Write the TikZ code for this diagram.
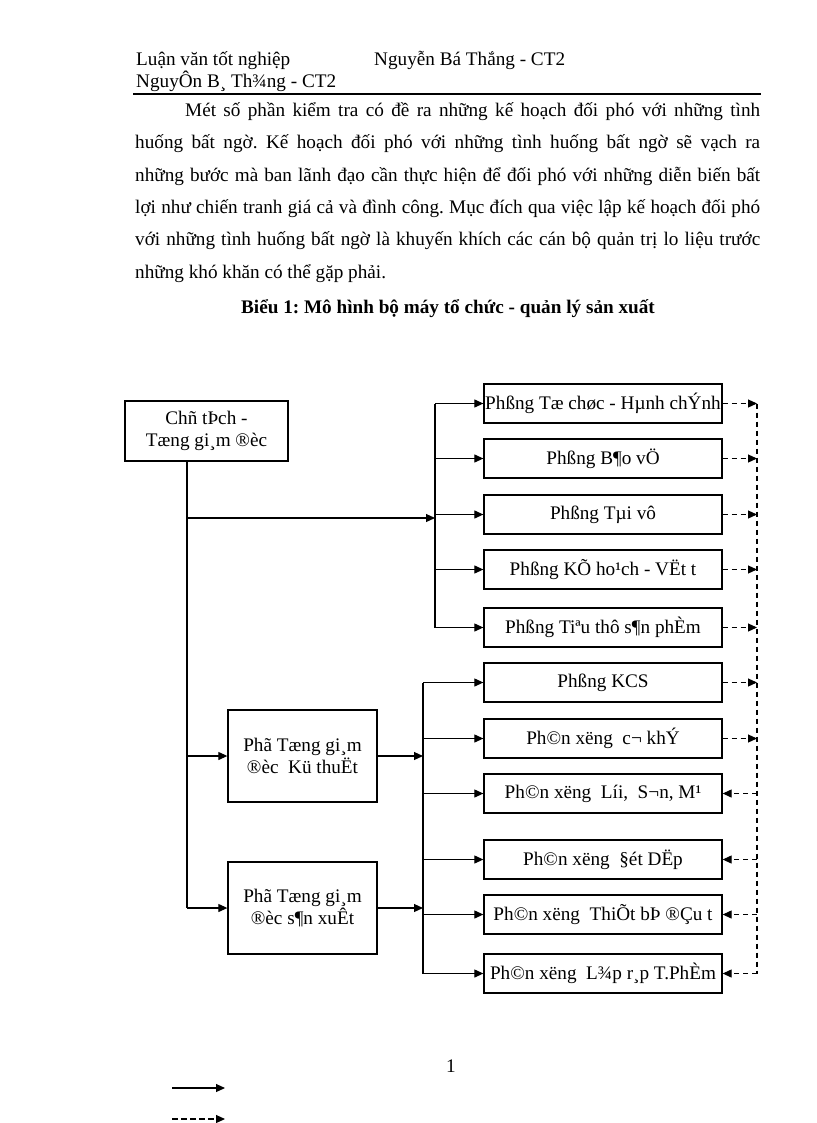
\documentclass[tikz,border=0pt]{standalone}
\usepackage{fontspec}
\setmainfont{Liberation Serif}
\usetikzlibrary{arrows.meta}
\begin{document}
\frenchspacing
\begin{tikzpicture}[x=1pt,y=-1pt,
  txt/.style={inner sep=0pt, font=\fontsize{19.2}{22}\selectfont},
  box/.style={draw, line width=1.3pt, inner sep=0pt, align=center, font=\fontsize{19.2}{21.5}\selectfont},
  rbox/.style={box, minimum width=238pt, minimum height=39pt},
  pbox/.style={box, minimum width=149pt, minimum height=92pt},
  line/.style={line width=1.1pt},
  conn/.style={line width=1.1pt, -{Triangle[length=9pt,width=8pt]}},
  dline/.style={line width=1.1pt, dash pattern=on 5.5pt off 3.5pt},
  dconn/.style={conn, dash pattern=on 5.5pt off 3.5pt}]
\useasboundingbox (0,0) rectangle (816,1123);
\fill[white] (0,0) rectangle (816,1123);
% header
\node[txt, anchor=base west] (h1) at (136,66) {Luận văn tốt nghiệp};
\node[txt, anchor=base west] (h2) at (374,66) {Nguyễn Bá Thắng - CT2};
\node[txt, anchor=base west] (h3) at (136,88) {NguyÔn B¸ Th¾ng - CT2};
\coordinate (ra) at (133,94);
\coordinate (rb) at (761,94);
\draw[line width=1.6pt] (ra) -- (rb);
% body
\node[txt, anchor=base west] (p1) at (185,116.5) {\makebox[575pt][s]{Mét số phần kiểm tra có đề ra những kế hoạch đối phó với những tình}};
\node[txt, anchor=base west] (p2) at (135,148.8) {\makebox[625pt][s]{huống bất ngờ. Kế hoạch đối phó với những tình huống bất ngờ sẽ vạch ra}};
\node[txt, anchor=base west] (p3) at (135,181.1) {\makebox[625pt][s]{những bước mà ban lãnh đạo cần thực hiện để đối phó với những diễn biến bất}};
\node[txt, anchor=base west] (p4) at (135,213.4) {\makebox[625pt][s]{lợi như chiến tranh giá cả và đình công. Mục đích qua việc lập kế hoạch đối phó}};
\node[txt, anchor=base west] (p5) at (135,245.7) {\makebox[625pt][s]{với những tình huống bất ngờ là khuyến khích các cán bộ quản trị lo liệu trước}};
\node[txt, anchor=base west] (p6) at (135,278) {những khó khăn có thể gặp phải.};
\node[txt, anchor=base, font=\fontsize{19.2}{22}\selectfont\bfseries] (title) at (448,313) {Biểu 1: Mô hình bộ máy tổ chức - quản lý sản xuất};
% boxes
\node[box, minimum width=163pt, minimum height=60pt] (main) at (206.5,431) {Chñ tÞch -\\Tæng gi¸m ®èc};
\node[rbox] (b1) at (603,403.5) {Phßng Tæ chøc - Hµnh chÝnh};
\node[rbox] (b2) at (603,458.5) {Phßng B¶o vÖ};
\node[rbox] (b3) at (603,514.5) {Phßng Tµi vô};
\node[rbox] (b4) at (603,569.5) {Phßng KÕ ho¹ch - VËt t};
\node[rbox] (b5) at (603,627.5) {Phßng Tiªu thô s¶n phÈm};
\node[rbox] (b6) at (603,682.5) {Phßng KCS};
\node[rbox] (b7) at (603,738.5) {Ph©n xëng\ \ c¬ khÝ};
\node[rbox] (b8) at (603,793.5) {Ph©n xëng\ \ Líi,\ \ S¬n, M¹};
\node[rbox] (b9) at (603,859.5) {Ph©n xëng\ \ §ét DËp};
\node[rbox] (b10) at (603,914.5) {Ph©n xëng\ \ ThiÕt bÞ ®Çu t};
\node[rbox] (b11) at (603,973.5) {Ph©n xëng\ \ L¾p r¸p T.PhÈm};
\node[pbox] (kt) at (302.5,756) {Phã Tæng gi¸m\\®èc\ \ Kü thuËt};
\node[pbox] (sx) at (302.5,908) {Phã Tæng gi¸m\\®èc s¶n xuÊt};
% solid connectors
\coordinate (mtop) at (187,461);
\coordinate (mbot) at (187,908);
\coordinate (j1) at (187,518);
\coordinate (ub) at (435,518);
\coordinate (lb) at (423,756);
\draw[line] (mtop) -- (mbot);
\draw[conn] (j1) -- (ub);
\draw[line] (b1.west -| ub) -- (b5.west -| ub);
\foreach \b in {b1,b2,b3,b4,b5} \draw[conn] (\b.west -| ub) -- (\b.west);
\draw[conn] (kt.west -| mtop) -- (kt.west);
\draw[conn] (mbot) -- (sx.west);
\draw[conn] (kt.east) -- (kt.east -| lb);
\draw[conn] (sx.east) -- (sx.east -| lb);
\draw[line] (b6.west -| lb) -- (b11.west -| lb);
\foreach \b in {b6,b7,b8,b9,b10,b11} \draw[conn] (\b.west -| lb) -- (\b.west);
% dashed connectors
\coordinate (dx) at (757,403.5);
\draw[dline] (b1.east -| dx) -- (b11.east -| dx);
\foreach \b in {b1,b2,b3,b4,b5,b6,b7} \draw[dconn] (\b.east) -- (\b.east -| dx);
\foreach \b in {b8,b9,b10,b11} \draw[dconn] (\b.east -| dx) -- (\b.east);
% page number and legend
\node[txt, anchor=base] (pg) at (451,1072) {1};
\coordinate (la) at (172,1088);
\coordinate (lb2) at (225,1088);
\coordinate (lc) at (172,1119);
\coordinate (ld) at (225,1119);
\draw[conn] (la) -- (lb2);
\draw[dconn] (lc) -- (ld);
\end{tikzpicture}
\end{document}
